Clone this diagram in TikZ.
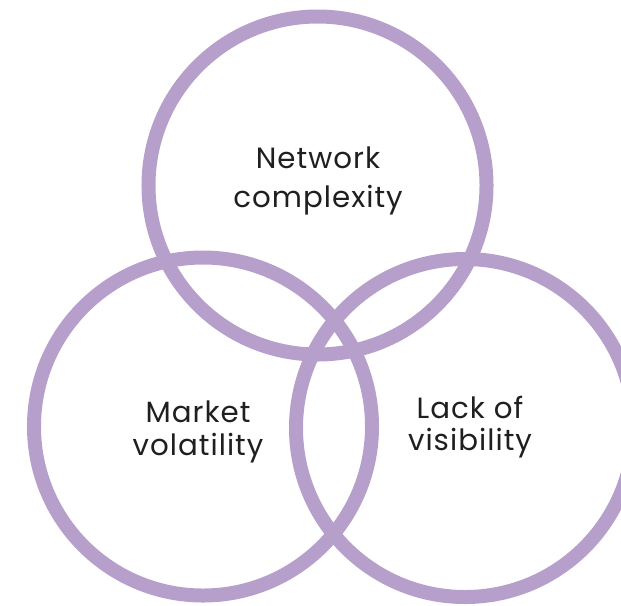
\documentclass[tikz,border=0pt]{standalone}
\usepackage{fontspec}
\setmainfont{Poppins}[LetterSpace=3.5]
\definecolor{ringlila}{RGB}{183,159,203}

\begin{document}
\begin{tikzpicture}[
    x=0.03cm, y=-0.03cm,
    ring/.style={circle, draw=ringlila, line width=0.42cm, minimum size=10.14cm, inner sep=0pt},
    caption/.style={align=center, text=black!88, font=\fontsize{25}{28}\selectfont}
]

% Rahmen
\clip (0,0) rectangle (621,605);

% Kreise
\node[ring] (network) at (317.5,185.5) {};
\node[ring] (market) at (203,426.5) {};
\node[ring] (visibility) at (465,428) {};

% Beschriftungen
\node[caption, font=\fontsize{25}{33}\selectfont] (networkText) at (318,181) {Network\\complexity};
\node[caption] (marketText) at (198,432) {Market\\volatility};
\node[caption] (visibilityText) at (470,427) {Lack of\\visibility};

\end{tikzpicture}
\end{document}
